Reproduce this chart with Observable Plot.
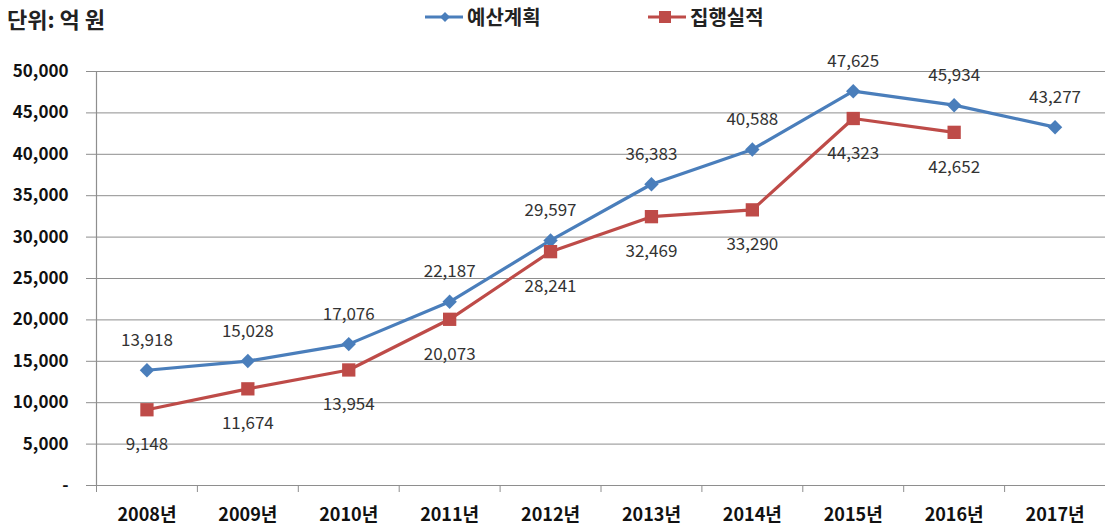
<!DOCTYPE html>
<html><head><meta charset="utf-8">
<script src="https://cdn.jsdelivr.net/npm/d3@7"></script>
<script src="https://cdn.jsdelivr.net/npm/@observablehq/plot@0.6"></script>
<style>
body{margin:0;background:#fff;font-family:"Noto Sans CJK KR","Noto Sans",sans-serif;}
#wrap{width:1105px;height:530px;position:relative;overflow:hidden;}
#head{position:relative;height:45px;}
#title{position:absolute;left:7px;top:3px;font-size:22px;font-weight:bold;color:#222;line-height:30px;}
.leg{position:absolute;top:3px;font-size:20px;font-weight:bold;color:#222;display:flex;align-items:center;line-height:28px;}
.leg svg{margin-right:3px;}
</style></head>
<body><div id="wrap"><div id="head">
<div id="title">단위: 억 원</div>
<div class="leg" style="left:424px"><svg width="40" height="16"><line x1="1" y1="8" x2="39" y2="8" stroke="#4A7EBB" stroke-width="3"/><path d="M21 3 L26 8 L21 13 L16 8Z" fill="#4A7EBB"/></svg><span id="l1"></span></div>
<div class="leg" style="left:647px"><svg width="40" height="16"><line x1="1" y1="8" x2="39" y2="8" stroke="#BE4B48" stroke-width="3"/><rect x="12" y="2" width="12" height="12" fill="#BE4B48"/></svg><span id="l2"></span></div>
</div><div id="chart"></div></div>
<script>
const years = ["2008년","2009년","2010년","2011년","2012년","2013년","2014년","2015년","2016년","2017년"];
const budget = [13918, 15028, 17076, 22187, 29597, 36383, 40588, 47625, 45934, 43277];
const spending = [9148, 11674, 13954, 20073, 28241, 32469, 33290, 44323, 42652];
const seriesNames = ["예산계획", "집행실적"];
const yTicks = [0, 5000, 10000, 15000, 20000, 25000, 30000, 35000, 40000, 45000, 50000];

document.getElementById("l1").textContent = seriesNames[0];
document.getElementById("l2").textContent = seriesNames[1];

const blue = "#4A7EBB", red = "#BE4B48", grid = "#8e8e8e";
const bData = budget.map((v, i) => ({x: i + 0.5, y: v}));
const sData = spending.map((v, i) => ({x: i + 0.5, y: v}));
const fmt = d3.format(",");

const chart = Plot.plot({
  width: 1105, height: 485,
  marginLeft: 96, marginRight: 0, marginTop: 26, marginBottom: 45,
  style: {fontFamily: '"Noto Sans CJK KR","Noto Sans",sans-serif', background: "#fff", overflow: "visible"},
  x: {type: "linear", domain: [0, years.length], axis: null},
  y: {domain: [0, 50000], axis: null},
  marks: [
    Plot.ruleY(yTicks, {stroke: grid, strokeWidth: 1}),
    Plot.ruleX([0], {stroke: grid, strokeWidth: 1.2}),
    Plot.axisY({ticks: yTicks, tickSize: 10, tickPadding: 18, stroke: grid, label: null,
      tickFormat: d => d === 0 ? "-" : fmt(d), fontSize: 17, fontWeight: "bold", fill: "#111"}),
    Plot.axisX({ticks: d3.range(years.length + 1), tickSize: 7, tickFormat: () => "", stroke: grid, label: null}),
    Plot.axisX({ticks: d3.range(years.length).map(i => i + 0.5), tickSize: 0, tickPadding: 23, label: null,
      tickFormat: d => years[Math.floor(d)], fontSize: 18, fontWeight: "bold", fill: "#111"}),
    Plot.line(bData, {x: "x", y: "y", stroke: blue, strokeWidth: 3.2}),
    Plot.line(sData, {x: "x", y: "y", stroke: red, strokeWidth: 3.2}),
    Plot.dot(bData, {x: "x", y: "y", symbol: "diamond2", r: 6.5, fill: blue, stroke: "none"}),
    Plot.dot(sData, {x: "x", y: "y", symbol: "square", r: 7.5, fill: red, stroke: "none"}),
    Plot.text(bData, {x: "x", y: "y", text: d => fmt(d.y), dy: -30, fontSize: 17, fill: "#333"}),
    Plot.text(sData, {x: "x", y: "y", text: d => fmt(d.y), dy: 35, fontSize: 17, fill: "#333"})
  ]
});
document.getElementById("chart").appendChild(chart);
</script></body></html>
